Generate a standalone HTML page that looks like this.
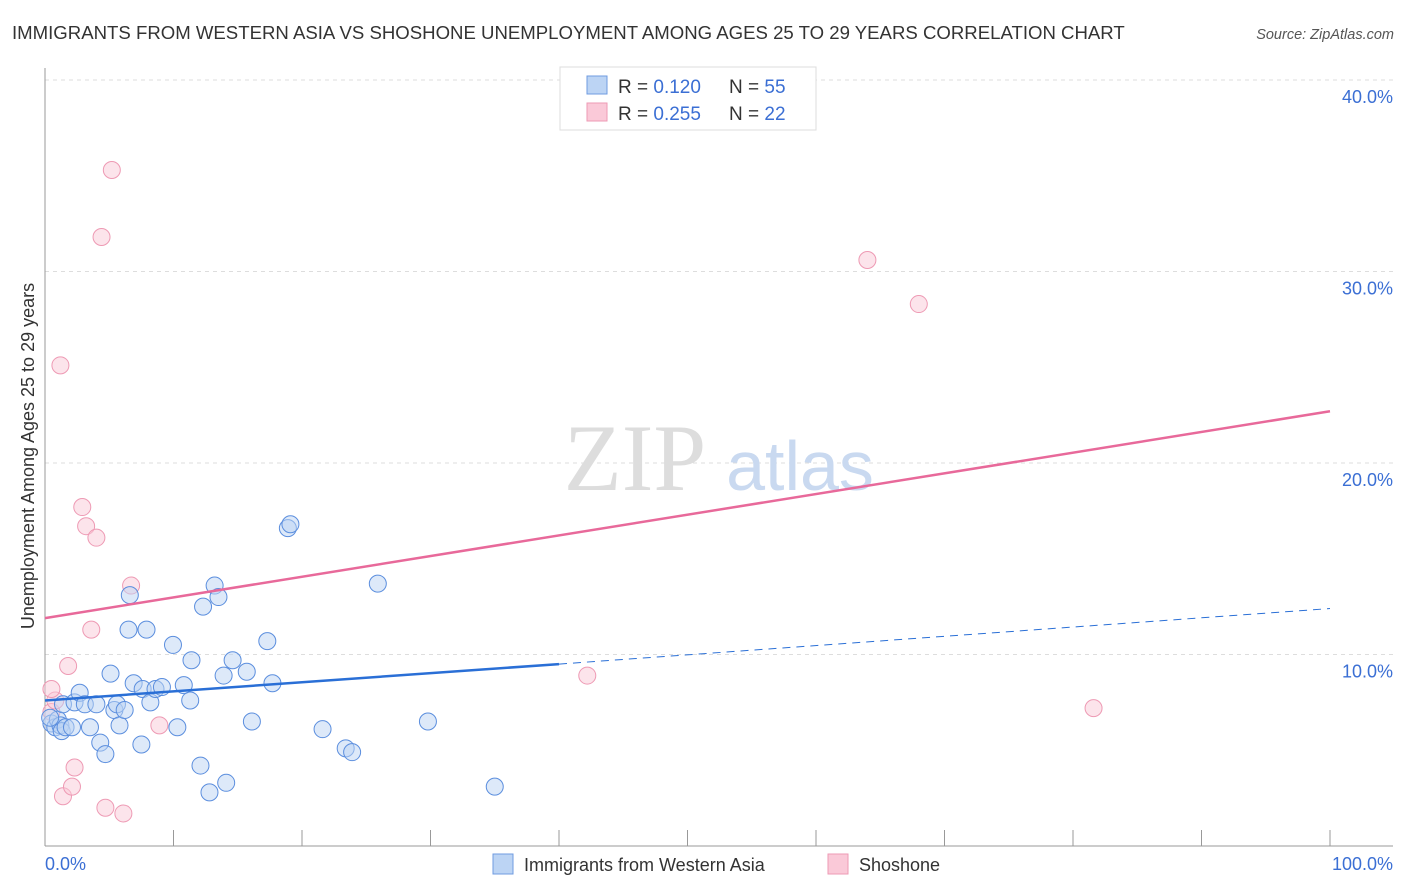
<!DOCTYPE html><html><head><style>
body{margin:0;background:#fff;font-family:"Liberation Sans",sans-serif}
</style></head><body>
<svg width="1406" height="892" style="position:absolute;left:0;top:0">
<text x="12" y="39" font-size="18.6" fill="#333">IMMIGRANTS FROM WESTERN ASIA VS SHOSHONE UNEMPLOYMENT AMONG AGES 25 TO 29 YEARS CORRELATION CHART</text>
<text x="1394" y="39" font-size="14.5" fill="#555" font-style="italic" text-anchor="end">Source: ZipAtlas.com</text>
<g id="grid"></g>
<text x="635" y="490" font-size="95" fill="#ddd" font-family="Liberation Serif" text-anchor="middle">ZIP</text>
<text x="800" y="490" font-size="70" fill="#c9d9f0" text-anchor="middle">atlas</text>
<g id="axes"></g>
<g id="marks"></g>
<text x="34" y="456" font-size="18" fill="#333" text-anchor="middle" transform="rotate(-90 34 456)">Unemployment Among Ages 25 to 29 years</text>
<text x="45" y="870" font-size="18" fill="#3b6fd4">0.0%</text>
<text x="1393" y="870" font-size="18" fill="#3b6fd4" text-anchor="end">100.0%</text>
<g>
<rect x="560" y="67" width="256" height="63" fill="#fff" stroke="#ddd"/>
<rect x="587" y="76" width="20" height="18" fill="#bcd4f4" stroke="#6f9be0"/>
<rect x="587" y="103" width="20" height="18" fill="#fac9d8" stroke="#ee9ab4"/>
<text x="618" y="93" font-size="19" fill="#333">R = <tspan fill="#3b6fd4">0.120</tspan></text>
<text x="729" y="93" font-size="19" fill="#333">N = <tspan fill="#3b6fd4">55</tspan></text>
<text x="618" y="120" font-size="19" fill="#333">R = <tspan fill="#3b6fd4">0.255</tspan></text>
<text x="729" y="120" font-size="19" fill="#333">N = <tspan fill="#3b6fd4">22</tspan></text>
</g>
<g>
<rect x="493" y="854" width="20" height="20" fill="#bcd4f4" stroke="#6f9be0"/>
<text x="524" y="871" font-size="18" fill="#333">Immigrants from Western Asia</text>
<rect x="828" y="854" width="20" height="20" fill="#fac9d8" stroke="#ee9ab4"/>
<text x="859" y="871" font-size="18" fill="#333">Shoshone</text>
</g>
</svg>
<script>
const yTicks=[10,20,30,40];
const xTicks=[0,10,20,30,40,50,60,70,80,90,100];
const blueX=[0.5,0.8,1.0,1.2,1.3,0.4,1.6,2.1,1.4,2.3,2.7,3.1,3.5,4.0,4.3,4.7,5.1,5.4,5.6,5.8,6.2,6.5,6.6,6.9,7.5,7.6,7.9,8.2,8.6,9.1,9.96,10.3,10.8,11.3,11.4,12.1,12.3,12.8,13.2,13.5,13.9,14.1,14.6,15.7,16.1,17.3,17.7,18.9,19.1,21.6,23.4,23.9,25.9,29.8,35.0];
const blueY=[6.4,6.2,6.6,6.3,6.0,6.7,6.2,6.2,7.4,7.5,8.0,7.4,6.2,7.4,5.4,4.8,9.0,7.1,7.4,6.3,7.1,11.3,13.1,8.5,5.3,8.2,11.3,7.5,8.2,8.3,10.5,6.2,8.4,7.6,9.7,4.2,12.5,2.8,13.6,13.0,8.9,3.3,9.7,9.1,6.5,10.7,8.5,16.6,16.8,6.1,5.1,4.9,13.7,6.5,3.1];
const pinkX=[0.5,0.8,0.5,1.2,1.4,1.8,2.1,2.3,2.9,3.2,3.6,4.0,4.4,4.7,5.2,6.1,6.7,8.9,42.2,64.0,68.0,81.6];
const pinkY=[7.0,7.6,8.2,25.1,2.6,9.4,3.1,4.1,17.7,16.7,11.3,16.1,31.8,2.0,35.3,1.7,13.6,6.3,8.9,30.6,28.3,7.2];
const pinkTrend=[[0,11.9],[100,22.7]];
const blueTrend=[[0,7.6],[40,9.5],[100,12.4]];
const X=v=>45+v*12.85, Y=v=>846-v*19.15;
const NS='http://www.w3.org/2000/svg';
function mk(p,t,a){const e=document.createElementNS(NS,t);for(const k in a)e.setAttribute(k,a[k]);document.getElementById(p).appendChild(e);return e;}
yTicks.forEach(t=>{const l=mk('grid','line',{x1:45,x2:1393,y1:Y(t),y2:Y(t),stroke:'#ddd','stroke-dasharray':'4,4'});


const tx=mk('axes','text',{x:1393,y:Y(t)+23,'font-size':18,fill:'#3b6fd4','text-anchor':'end'});tx.textContent=t.toFixed(1)+'%';

});
const ax=mk('axes','line',{x1:45,x2:1393,y1:846,y2:846,stroke:'#999'});


const ay=mk('axes','line',{x1:45,x2:45,y1:68,y2:846,stroke:'#999'});


xTicks.forEach(t=>{const l=mk('axes','line',{x1:X(t),x2:X(t),y1:830,y2:846,stroke:'#999'});

});
pinkX.forEach((v,i)=>{const c=mk('marks','circle',{cx:X(v),cy:Y(pinkY[i]),r:8.5,fill:'#fac9d8','fill-opacity':0.5,stroke:'#ee9ab4'});

});
blueX.forEach((v,i)=>{const c=mk('marks','circle',{cx:X(v),cy:Y(blueY[i]),r:8.5,fill:'#bcd4f4','fill-opacity':0.5,stroke:'#5b8ede'});

});
const pt=mk('marks','line',{x1:X(pinkTrend[0][0]),y1:Y(pinkTrend[0][1]),x2:X(pinkTrend[1][0]),y2:Y(pinkTrend[1][1]),stroke:'#e8699a','stroke-width':2.5});


const bt=mk('marks','line',{x1:X(blueTrend[0][0]),y1:Y(blueTrend[0][1]),x2:X(blueTrend[1][0]),y2:Y(blueTrend[1][1]),stroke:'#2a6fd6','stroke-width':2.5});


const bd=mk('marks','line',{x1:X(blueTrend[1][0]),y1:Y(blueTrend[1][1]),x2:X(blueTrend[2][0]),y2:Y(blueTrend[2][1]),stroke:'#2a6fd6','stroke-width':1,'stroke-dasharray':'8,6'});


</script>
</body></html>
